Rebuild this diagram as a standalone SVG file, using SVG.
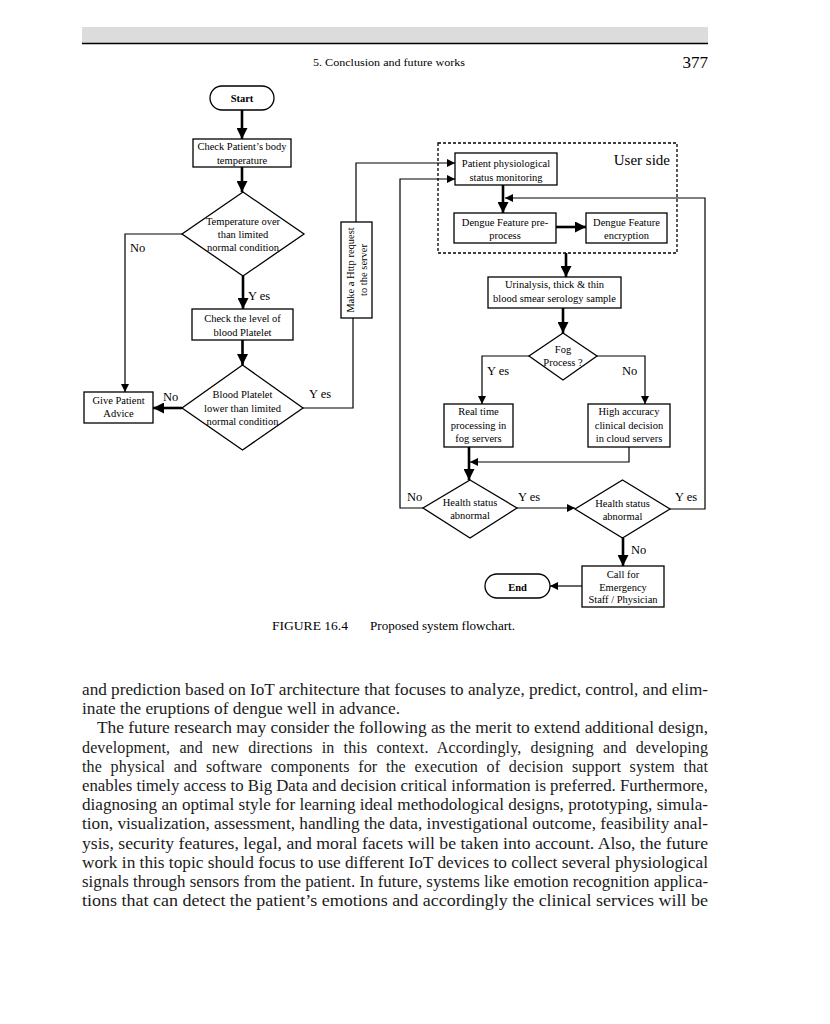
<svg xmlns="http://www.w3.org/2000/svg" width="830" height="1024" viewBox="0 0 830 1024">
<style>
.bx{fill:#fff;stroke:#000;stroke-width:1.3}
.t{font-family:"Liberation Serif","Times New Roman",serif;font-size:10.5px;fill:#000;text-anchor:middle}
.lb{font-family:"Liberation Serif","Times New Roman",serif;font-size:12.5px;fill:#000}
.tk{fill:none;stroke:#000;stroke-width:2.6}
.tn{fill:none;stroke:#000;stroke-width:1.2}
.body{font-family:"Liberation Serif","Times New Roman",serif;font-size:16px;fill:#1a1a1a}
</style>
<defs>
<marker id="big" viewBox="0 0 10 10" refX="10" refY="5" markerWidth="11" markerHeight="11" markerUnits="userSpaceOnUse" orient="auto"><path d="M0,0 L10,5 L0,10 z" fill="#000"/></marker>
<marker id="sm" viewBox="0 0 10 10" refX="10" refY="5" markerWidth="8" markerHeight="8" markerUnits="userSpaceOnUse" orient="auto"><path d="M0,0 L10,5 L0,10 z" fill="#000"/></marker>
</defs>
<rect width="830" height="1024" fill="#fff"/>
<g id="header">
<rect x="82" y="27" width="626" height="16" fill="#dcdcdc"/>
<line x1="82" y1="43.5" x2="708" y2="43.5" stroke="#000" stroke-width="1.5"/>
<text x="313" y="66" font-family="Liberation Serif,serif" font-size="10.5" textLength="152" lengthAdjust="spacingAndGlyphs">5. Conclusion and future works</text>
<text x="708" y="68" font-family="Liberation Serif,serif" font-size="17" text-anchor="end">377</text>
</g>
<g id="connectors">
<line class="tk" x1="242" y1="110" x2="242" y2="139" marker-end="url(#big)"/>
<line class="tk" x1="242" y1="167" x2="242" y2="192" marker-end="url(#big)"/>
<line class="tk" x1="243" y1="276" x2="243" y2="309" marker-end="url(#big)"/>
<line class="tk" x1="242.5" y1="340" x2="242.5" y2="365" marker-end="url(#big)"/>
<line class="tk" x1="182" y1="408" x2="153" y2="408" marker-end="url(#big)"/>
<polyline class="tn" points="182,234 125,234 125,392" marker-end="url(#sm)"/>
<polyline class="tn" points="303,408 353,408 353,318"/>
<polyline class="tn" points="356,222 356,163 455,163" marker-end="url(#sm)"/>
<polyline class="tn" points="423,508 400,508 400,179 455,179" marker-end="url(#sm)"/>
<line class="tk" x1="503" y1="185" x2="503" y2="213" marker-end="url(#big)"/>
<polyline class="tn" points="670,509 705,509 705,198 505,198" marker-end="url(#sm)"/>
<line class="tk" x1="556" y1="227" x2="586" y2="227" marker-end="url(#big)"/>
<line class="tk" x1="566" y1="253" x2="566" y2="277" marker-end="url(#big)"/>
<line class="tk" x1="563" y1="308" x2="563" y2="333" marker-end="url(#big)"/>
<polyline class="tn" points="529,356 482,356 482,404" marker-end="url(#sm)"/>
<polyline class="tn" points="597,356 645,356 645,404" marker-end="url(#sm)"/>
<polyline class="tn" points="629,447 629,462 470,462" marker-end="url(#sm)"/>
<line class="tk" x1="469" y1="447" x2="469" y2="480" marker-end="url(#big)"/>
<line class="tn" x1="517" y1="508" x2="575" y2="508" marker-end="url(#sm)"/>
<line class="tk" x1="623" y1="538" x2="623" y2="566" marker-end="url(#big)"/>
<line class="tn" x1="582" y1="586" x2="550" y2="586" marker-end="url(#sm)"/>
</g>
<g id="labels">
<text class="lb" x="130" y="252">No</text>
<text class="lb" x="248" y="300">Y es</text>
<text class="lb" x="163" y="401">No</text>
<text class="lb" x="309" y="398">Y es</text>
<text class="lb" x="487" y="375">Y es</text>
<text class="lb" x="622" y="375">No</text>
<text class="lb" x="407" y="501">No</text>
<text class="lb" x="518" y="501">Y es</text>
<text class="lb" x="675" y="501">Y es</text>
<text class="lb" x="631" y="554">No</text>
</g>
<g id="start">
<rect class="bx" x="210" y="86" width="64" height="24" rx="12"/>
<text class="t" x="242" y="102" font-weight="bold" font-size="12">Start</text>
</g>
<g id="check-temp">
<rect class="bx" x="193" y="139" width="98" height="28"/>
<text class="t" x="242" y="149.5">Check Patient’s body</text>
<text class="t" x="242" y="163.5">temperature</text>
</g>
<g id="temp-decision">
<polygon class="bx" points="243,192 304,234 243,276 182,234"/>
<text class="t" x="243" y="224.5">Temperature over</text>
<text class="t" x="243" y="237.5">than limited</text>
<text class="t" x="243" y="250.5">normal condition</text>
</g>
<g id="check-platelet">
<rect class="bx" x="192" y="309" width="101" height="31"/>
<text class="t" x="242.5" y="321.5">Check the level of</text>
<text class="t" x="242.5" y="335.5">blood Platelet</text>
</g>
<g id="platelet-decision">
<polygon class="bx" points="242.5,365 303,408 242.5,450 182,408"/>
<text class="t" x="242.5" y="397.5">Blood Platelet</text>
<text class="t" x="242.5" y="411.5">lower than limited</text>
<text class="t" x="242.5" y="424.5">normal condition</text>
</g>
<g id="give-advice">
<rect class="bx" x="84" y="392" width="69" height="31"/>
<text class="t" x="118.5" y="404">Give Patient</text>
<text class="t" x="118.5" y="417">Advice</text>
</g>
<g id="http-request">
<rect class="bx" x="341" y="222" width="31" height="96"/>
<text class="t" transform="translate(356.5,270) rotate(-90)"><tspan x="0" y="-3">Make a Http request</tspan><tspan x="0" y="10">to the server</tspan></text>
</g>
<g id="user-side">
<rect x="438" y="143" width="239" height="110" fill="none" stroke="#000" stroke-width="1.3" stroke-dasharray="3,2"/>
<text x="670" y="165" font-family="Liberation Serif,serif" font-size="15" text-anchor="end">User side</text>
</g>
<g id="monitoring">
<rect class="bx" x="455" y="153" width="102" height="32"/>
<text class="t" x="506" y="166.5">Patient physiological</text>
<text class="t" x="506" y="180.5">status monitoring</text>
</g>
<g id="preprocess">
<rect class="bx" x="454" y="213" width="102" height="30"/>
<text class="t" x="505" y="225.5">Dengue Feature pre-</text>
<text class="t" x="505" y="238.5">process</text>
</g>
<g id="encryption">
<rect class="bx" x="586" y="213" width="81" height="30"/>
<text class="t" x="626.5" y="225.5">Dengue Feature</text>
<text class="t" x="626.5" y="238.5">encryption</text>
</g>
<g id="urinalysis">
<rect class="bx" x="488" y="277" width="133" height="31"/>
<text class="t" x="554.5" y="287.5">Urinalysis, thick &amp; thin</text>
<text class="t" x="554.5" y="301.5">blood smear serology sample</text>
</g>
<g id="fog-decision">
<polygon class="bx" points="563,333 597,356 563,380 529,356"/>
<text class="t" x="563" y="353">Fog</text>
<text class="t" x="563" y="366">Process ?</text>
</g>
<g id="fog-processing">
<rect class="bx" x="444" y="404" width="69" height="43"/>
<text class="t" x="478.5" y="415">Real time</text>
<text class="t" x="478.5" y="429">processing in</text>
<text class="t" x="478.5" y="442">fog servers</text>
</g>
<g id="cloud-processing">
<rect class="bx" x="588" y="404" width="82" height="43"/>
<text class="t" x="629" y="415">High accuracy</text>
<text class="t" x="629" y="429">clinical decision</text>
<text class="t" x="629" y="442">in cloud servers</text>
</g>
<g id="health-1">
<polygon class="bx" points="470,480 517,508 470,538 423,508"/>
<text class="t" x="470" y="506">Health status</text>
<text class="t" x="470" y="519">abnormal</text>
</g>
<g id="health-2">
<polygon class="bx" points="622.5,480 670,509 622.5,538 575,509"/>
<text class="t" x="622.5" y="507">Health status</text>
<text class="t" x="622.5" y="520">abnormal</text>
</g>
<g id="emergency">
<rect class="bx" x="582" y="566" width="82" height="41"/>
<text class="t" x="623" y="578">Call for</text>
<text class="t" x="623" y="591">Emergency</text>
<text class="t" x="623" y="603">Staff / Physician</text>
</g>
<g id="end">
<rect class="bx" x="485" y="574" width="65" height="24" rx="12"/>
<text class="t" x="517.5" y="590.5" font-weight="bold" font-size="12.5">End</text>
</g>
<g id="caption">
<text x="272" y="630" font-family="Liberation Serif,serif" font-size="12" textLength="76" lengthAdjust="spacingAndGlyphs">FIGURE 16.4</text>
<text x="370" y="630" font-family="Liberation Serif,serif" font-size="11.5" textLength="145" lengthAdjust="spacingAndGlyphs">Proposed system flowchart.</text>
</g>
<g id="body-text" class="body">
<text x="82" y="695" textLength="626" lengthAdjust="spacingAndGlyphs">and prediction based on IoT architecture that focuses to analyze, predict, control, and elim-</text>
<text x="82" y="714.2" textLength="318" lengthAdjust="spacingAndGlyphs">inate the eruptions of dengue well in advance.</text>
<text x="97" y="733.4" textLength="611" lengthAdjust="spacingAndGlyphs">The future research may consider the following as the merit to extend additional design,</text>
<text x="82" y="752.5" textLength="626" lengthAdjust="spacing" word-spacing="5">development, and new directions in this context. Accordingly, designing and developing</text>
<text x="82" y="771.7" textLength="626" lengthAdjust="spacing" word-spacing="4.5">the physical and software components for the execution of decision support system that</text>
<text x="82" y="790.9" textLength="626" lengthAdjust="spacingAndGlyphs">enables timely access to Big Data and decision critical information is preferred. Furthermore,</text>
<text x="82" y="810.1" textLength="626" lengthAdjust="spacingAndGlyphs">diagnosing an optimal style for learning ideal methodological designs, prototyping, simula-</text>
<text x="82" y="829.3" textLength="626" lengthAdjust="spacingAndGlyphs">tion, visualization, assessment, handling the data, investigational outcome, feasibility anal-</text>
<text x="82" y="848.5" textLength="626" lengthAdjust="spacingAndGlyphs">ysis, security features, legal, and moral facets will be taken into account. Also, the future</text>
<text x="82" y="867.6" textLength="626" lengthAdjust="spacingAndGlyphs">work in this topic should focus to use different IoT devices to collect several physiological</text>
<text x="82" y="886.8" textLength="626" lengthAdjust="spacingAndGlyphs">signals through sensors from the patient. In future, systems like emotion recognition applica-</text>
<text x="82" y="906" textLength="626" lengthAdjust="spacingAndGlyphs">tions that can detect the patient’s emotions and accordingly the clinical services will be</text>
</g>
</svg>
